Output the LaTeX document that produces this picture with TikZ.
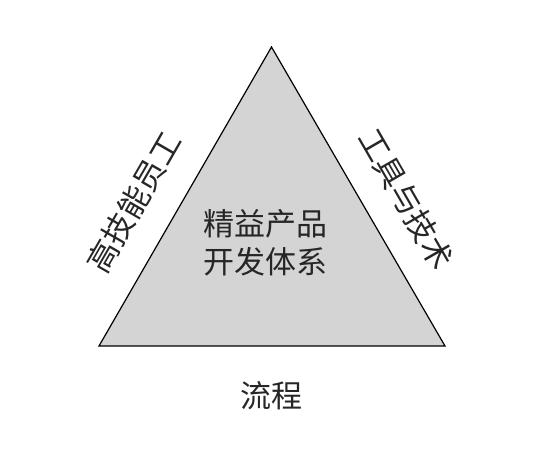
\documentclass[tikz,border=0pt]{standalone}
\usepackage{fontspec}
\newfontfamily\cjk{Noto Sans CJK SC}
\definecolor{trifill}{RGB}{212,212,212}
\begin{document}
\begin{tikzpicture}[x=1pt,y=-1pt,
  lbl/.style={font=\cjk\fontsize{31}{38}\selectfont, inner sep=0pt, align=center, text=black!85}]
\useasboundingbox (0,0) rectangle (536,464);
\coordinate (apex) at (271.5,47);
\coordinate (bl) at (99,346);
\coordinate (br) at (445,346);
\draw[fill=trifill, line width=1.2pt, line join=miter] (apex) -- (br) -- (bl) -- cycle;
\node[lbl] (center) at (265,243) {精益产品\\开发体系};
\node[lbl, rotate=60] (left) at (134,202) {高技能员工};
\node[lbl, rotate=-60] (right) at (406,199) {工具与技术};
\node[lbl] (bottom) at (271,396) {流程};
\end{tikzpicture}
\end{document}
